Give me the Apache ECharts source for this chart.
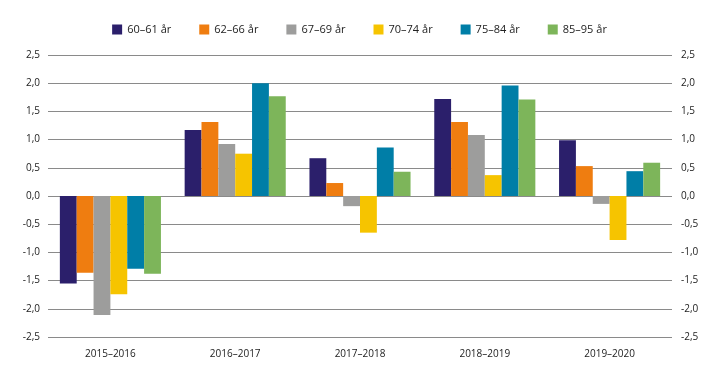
<!DOCTYPE html>
<html><head><meta charset="utf-8">
<script src="https://cdn.jsdelivr.net/npm/echarts@6/dist/echarts.min.js"></script>
<style>html,body{margin:0;padding:0;background:#fff}#c{width:719px;height:383px}</style>
</head><body><div id="c"></div>
<script>
const categories = ['2015–2016','2016–2017','2017–2018','2018–2019','2019–2020'];
const seriesNames = ['60–61 år','62–66 år','67–69 år','70–74 år','75–84 år','85–95 år'];
const s6061 = [-1.55, 1.17, 0.67, 1.72, 0.99];
const s6266 = [-1.36, 1.31, 0.23, 1.31, 0.53];
const s6769 = [-2.11, 0.92, -0.18, 1.08, -0.14];
const s7074 = [-1.74, 0.75, -0.65, 0.37, -0.78];
const s7584 = [-1.29, 2.00, 0.86, 1.96, 0.44];
const s8595 = [-1.38, 1.77, 0.43, 1.71, 0.59];
const colors = ['#2b1f6b','#ef7d10','#9d9d9c','#f6c400','#007ea7','#7db55a'];
const allData = [s6061, s6266, s6769, s7074, s7584, s8595];

const fmt = v => v.toFixed(1).replace('.', ',');
const font = 'Open Sans';
const chart = echarts.init(document.getElementById('c'));
chart.setOption({
  animation: false,
  textStyle: {fontFamily: font},
  legend: {
    top: 19, left: 'center', itemWidth: 10, itemHeight: 10, itemGap: 28,
    icon: 'rect',
    textStyle: {fontSize: 11, color: '#222', fontFamily: font},
    data: seriesNames
  },
  grid: {left: 48, right: 47, top: 55, bottom: 46},
  xAxis: {
    type: 'category', data: categories,
    axisLine: {show: false, onZero: false}, axisTick: {show: false},
    axisLabel: {fontSize: 10, color: '#222', margin: 12, fontFamily: font}
  },
  yAxis: [
    {type: 'value', min: -2.5, max: 2.5, interval: 0.5,
     axisLabel: {formatter: fmt, fontSize: 10, color: '#222', margin: 8, fontFamily: font},
     splitLine: {lineStyle: {color: '#8a8a8a', width: 1}},
     axisLine: {show: false}, axisTick: {show: false}},
    {type: 'value', min: -2.5, max: 2.5, interval: 0.5, position: 'right',
     axisLabel: {formatter: fmt, fontSize: 10, color: '#222', margin: 9, fontFamily: font},
     splitLine: {show: false}, axisLine: {show: false}, axisTick: {show: false}}
  ],
  series: seriesNames.map((n, i) => ({
    name: n, type: 'bar', data: allData[i], barGap: '0%', barCategoryGap: '19%',
    itemStyle: {color: colors[i]}
  }))
});
</script></body></html>
